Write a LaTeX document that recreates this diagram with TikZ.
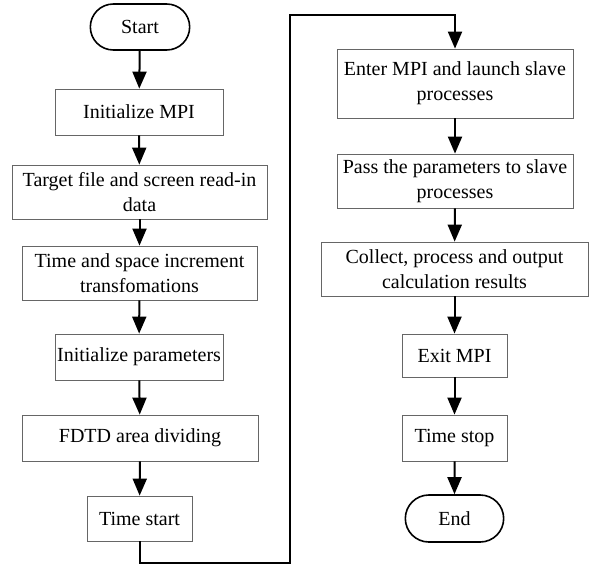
\documentclass[tikz,border=0pt]{standalone}
\usepackage{fontspec}
\setmainfont{Liberation Serif}
\usepackage{tikz}
\usetikzlibrary{arrows.meta, shapes.misc}

\begin{document}
\begin{tikzpicture}[
		x=1pt,
		y=-1pt,
		font=\fontsize{20}{25}\selectfont,
		terminal/.style={draw, line width=1.6pt, rounded rectangle, minimum width=106pt, minimum height=46pt},
		process/.style={draw=black!60, line width=0.8pt, align=center, inner sep=2pt},
		flow/.style={-{Triangle[length=17pt, width=14pt]}, line width=2pt}
		]
		\useasboundingbox (0,0) rectangle (591,565);
		
		% Left column
		\node[terminal] (start) at (140,27) {Start};
		\node[process, minimum width=168pt, minimum height=46pt] (initmpi) at (139,112) {Initialize MPI};
		\node[process, minimum width=255pt, minimum height=54pt] (readin) at (139.5,192) {Target file and screen read-in\\data};
		\node[process, minimum width=235pt, minimum height=54pt] (incr) at (139.5,273) {Time and space increment\\transfomations};
		\node[process, minimum width=168pt, minimum height=46pt] (initpar) at (139,357) {Initialize parameters};
		\node[process, minimum width=236pt, minimum height=46pt] (fdtd) at (140,438) {FDTD area dividing};
		\node[process, minimum width=105pt, minimum height=45pt] (tstart) at (139.5,518.5) {Time start};
		
		% Right column
		\node[process, minimum width=236pt, minimum height=69pt] (enter) at (455,83.5) {Enter MPI and launch slave\\processes};
		\node[process, minimum width=236pt, minimum height=54pt] (pass) at (455,181) {Pass the parameters to slave\\processes};
		\node[process, minimum width=267pt, minimum height=54pt] (collect) at (454.5,269) {Collect, process and output\\calculation results};
		\node[process, minimum width=105pt, minimum height=43pt] (exitmpi) at (454.5,355.5) {Exit MPI};
		\node[process, minimum width=105pt, minimum height=46pt] (tstop) at (454.5,438) {Time stop};
		\node[terminal, minimum width=105pt, minimum height=47pt] (end) at (454.5,518.5) {End};
		
		% Bends of the link between columns
		\coordinate (bend) at (290,563);
		\coordinate (top) at (290,15);
		
		% Arrows
		\draw[flow] (start) -- (initmpi);
		\draw[flow] (initmpi) -- (readin);
		\draw[flow] (readin) -- (incr);
		\draw[flow] (incr) -- (initpar);
		\draw[flow] (initpar) -- (fdtd);
		\draw[flow] (fdtd) -- (tstart);
		\draw[flow] (tstart.south) |- (bend) -- (top) -| (enter.north);
		\draw[flow] (enter) -- (pass);
		\draw[flow] (pass) -- (collect);
		\draw[flow] (collect) -- (exitmpi);
		\draw[flow] (exitmpi) -- (tstop);
		\draw[flow] (tstop) -- (end);
	\end{tikzpicture}
\end{document}
